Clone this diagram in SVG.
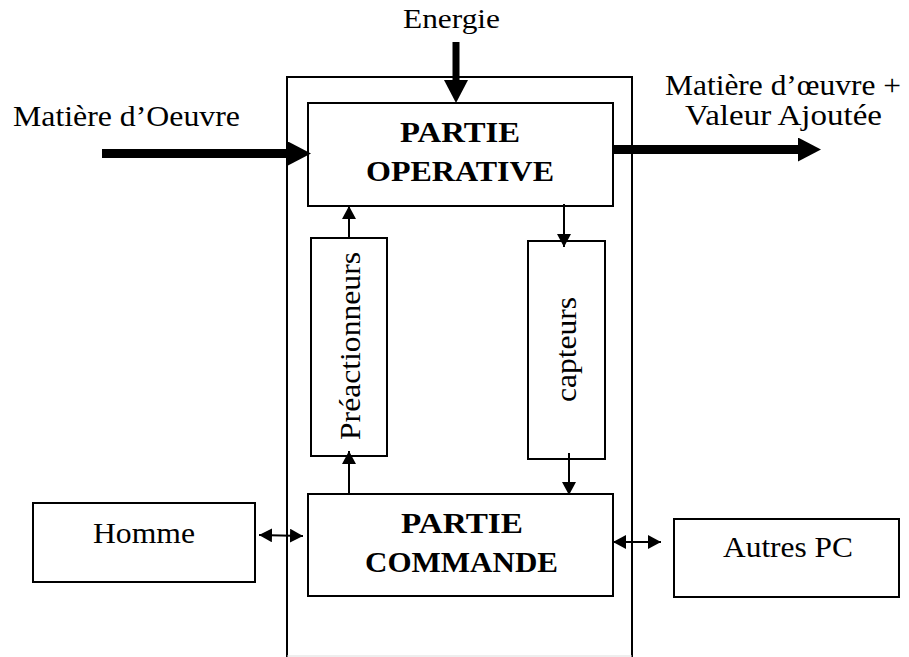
<svg xmlns="http://www.w3.org/2000/svg" width="909" height="657" viewBox="0 0 909 657">
<defs>
<style>
.box{fill:#fff;stroke:#000;stroke-width:2}
.t{font-family:'Liberation Serif','Times New Roman',Times,'Nimbus Roman',serif;font-size:30px;fill:#000}
.b{font-weight:bold}
.thin{stroke:#000;stroke-width:2;fill:none}
.thick{stroke:#000;fill:none}
</style>
<marker id="big" markerUnits="userSpaceOnUse" markerWidth="24" markerHeight="24" refX="0" refY="12" orient="auto">
<path d="M0,0 L23,12 L0,24 z" fill="#000"/>
</marker>
<marker id="sm" markerUnits="userSpaceOnUse" markerWidth="14" markerHeight="14" refX="13" refY="7" orient="auto-start-reverse">
<path d="M0,0 L13,7 L0,14 z" fill="#000"/>
</marker>
</defs>
<rect width="909" height="657" fill="#fff"/>
<g id="systeme">
<path d="M287,657 L287,77 L632,77 L632,657" class="thin"/>
<line x1="287" y1="656" x2="632" y2="656" stroke="#ddd" stroke-width="1"/>
</g>
<g id="partie-operative">
<rect x="308" y="103" width="305" height="103" class="box"/>
<text class="t b" font-family="Liberation Serif" x="400" y="142" textLength="120" lengthAdjust="spacingAndGlyphs">PARTIE</text>
<text class="t b" font-family="Liberation Serif" x="366" y="181" textLength="188" lengthAdjust="spacingAndGlyphs">OPERATIVE</text>
</g>
<g id="preactionneurs">
<rect x="311" y="238" width="76" height="218" class="box"/>
<text class="t" font-family="Liberation Serif" transform="translate(360,440) rotate(-90)" textLength="188" lengthAdjust="spacingAndGlyphs">Préactionneurs</text>
</g>
<g id="capteurs">
<rect x="528" y="241" width="77" height="218" class="box"/>
<text class="t" font-family="Liberation Serif" transform="translate(576,402) rotate(-90)" textLength="105" lengthAdjust="spacingAndGlyphs">capteurs</text>
</g>
<g id="partie-commande">
<rect x="308" y="494" width="305" height="102" class="box"/>
<text class="t b" font-family="Liberation Serif" x="401" y="533" textLength="122" lengthAdjust="spacingAndGlyphs">PARTIE</text>
<text class="t b" font-family="Liberation Serif" x="365" y="572" textLength="193" lengthAdjust="spacingAndGlyphs">COMMANDE</text>
</g>
<g id="homme">
<rect x="33" y="503" width="222" height="79" class="box"/>
<text class="t" font-family="Liberation Serif" x="93" y="543" textLength="102" lengthAdjust="spacingAndGlyphs">Homme</text>
</g>
<g id="autres-pc">
<rect x="674" y="519" width="225" height="78" class="box"/>
<text class="t" font-family="Liberation Serif" x="723" y="557" textLength="130" lengthAdjust="spacingAndGlyphs">Autres PC</text>
</g>
<g id="labels">
<text class="t" font-family="Liberation Serif" style="font-size:28px" x="403" y="28" textLength="97" lengthAdjust="spacingAndGlyphs">Energie</text>
<text class="t" font-family="Liberation Serif" x="13" y="126" textLength="227" lengthAdjust="spacingAndGlyphs">Matière d’Oeuvre</text>
<text class="t" font-family="Liberation Serif" x="665" y="95" textLength="236" lengthAdjust="spacingAndGlyphs">Matière d’œuvre +</text>
<text class="t" font-family="Liberation Serif" x="685" y="125" textLength="197" lengthAdjust="spacingAndGlyphs">Valeur Ajoutée</text>
</g>
<g id="connecteurs">
<line x1="456" y1="42" x2="456" y2="80" class="thick" stroke-width="7" marker-end="url(#big)"/>
<line x1="102" y1="153.5" x2="288" y2="153.5" class="thick" stroke-width="9" marker-end="url(#big)"/>
<line x1="613" y1="149.5" x2="798" y2="149.5" class="thick" stroke-width="9" marker-end="url(#big)"/>
<line x1="349" y1="238" x2="349" y2="206" class="thin" marker-end="url(#sm)"/>
<line x1="349" y1="494" x2="349" y2="451" class="thin" marker-end="url(#sm)"/>
<line x1="564" y1="204" x2="564" y2="247" class="thin" marker-end="url(#sm)"/>
<line x1="569" y1="453" x2="569" y2="495" class="thin" marker-end="url(#sm)"/>
<line x1="259" y1="535" x2="303" y2="536" class="thin" marker-start="url(#sm)" marker-end="url(#sm)"/>
<line x1="613" y1="542" x2="661" y2="542" class="thin" marker-start="url(#sm)" marker-end="url(#sm)"/>
</g>
</svg>
